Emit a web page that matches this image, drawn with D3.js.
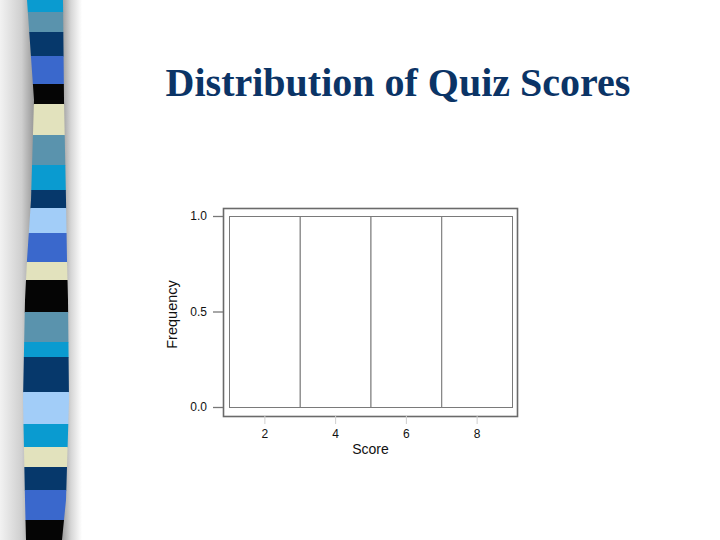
<!DOCTYPE html>
<html>
<head>
<meta charset="utf-8">
<script src="https://cdn.jsdelivr.net/npm/d3@7"></script>
<style>
  html, body { margin: 0; padding: 0; background: #ffffff; }
  svg { display: block; }
</style>
</head>
<body>
<svg id="chart" width="720" height="540"></svg>
<script>
// ---- Data ----
const binEdges = [1, 3, 5, 7, 9];
const binCounts = [1, 1, 1, 1];
const xTickValues = [2, 4, 6, 8];
const yTickValues = [0, 0.5, 1.0];
const yTickLabels = ["0.0", "0.5", "1.0"];
const titleText = "Distribution of Quiz Scores";
const xLabel = "Score";
const yLabel = "Frequency";

// decorative stripe colours (top to bottom) with their band boundaries
const stripeColors = ["#0a9bd0", "#5a93ad", "#06386b", "#3a68cc", "#050505", "#e2e2bd",
  "#5a93ad", "#0a9bd0", "#06386b", "#a2cdf8", "#3a68cc", "#e2e2bd", "#050505", "#5a93ad",
  "#0a9bd0", "#06386b", "#a2cdf8", "#0a9bd0", "#e2e2bd", "#06386b", "#3a68cc", "#050505"];
const stripeBounds = [0, 12, 32, 56, 84, 104, 135, 165, 190, 208, 233, 262, 280, 312, 342,
  357, 392, 424, 447, 467, 490, 520, 540];

const svg = d3.select("#chart");
const defs = svg.append("defs");

// ---- Decorative left strip ----
const lg = defs.append("linearGradient").attr("id", "shL").attr("x1", "0").attr("x2", "1").attr("y1", "0").attr("y2", "0");
lg.append("stop").attr("offset", "0").attr("stop-color", "#f2f2f2");
lg.append("stop").attr("offset", "0.6").attr("stop-color", "#cfcfcf");
lg.append("stop").attr("offset", "1").attr("stop-color", "#8f8f8f");
const rg = defs.append("linearGradient").attr("id", "shR").attr("x1", "0").attr("x2", "1").attr("y1", "0").attr("y2", "0");
rg.append("stop").attr("offset", "0").attr("stop-color", "#8f8f8f");
rg.append("stop").attr("offset", "0.5").attr("stop-color", "#d6d6d6");
rg.append("stop").attr("offset", "1").attr("stop-color", "#ffffff");

svg.append("rect").attr("x", 0).attr("y", 0).attr("width", 36).attr("height", 540).attr("fill", "url(#shL)");
svg.append("rect").attr("x", 60).attr("y", 0).attr("width", 22).attr("height", 540).attr("fill", "url(#shR)");

const leftEdge = [[27, 0], [34, 100], [31, 200], [27, 260], [25, 300], [23, 400], [25, 500], [26, 540]];
const rightEdge = [[62, 540], [66, 500], [69, 400], [68, 300], [67, 260], [66, 200], [64, 100], [63, 0]];
const stripPath = d3.line().curve(d3.curveLinear)(leftEdge.concat(rightEdge)) + "Z";
defs.append("clipPath").attr("id", "stripClip").append("path").attr("d", stripPath);

const stripG = svg.append("g").attr("clip-path", "url(#stripClip)");
stripG.selectAll("rect").data(stripeColors).join("rect")
  .attr("x", 0).attr("width", 90)
  .attr("y", (d, i) => stripeBounds[i])
  .attr("height", (d, i) => stripeBounds[i + 1] - stripeBounds[i] + 0.5)
  .attr("fill", d => d);

// ---- Title ----
svg.append("text")
  .attr("x", 398).attr("y", 96)
  .attr("text-anchor", "middle")
  .attr("font-family", "'Liberation Serif', 'Times New Roman', serif")
  .attr("font-weight", "bold")
  .attr("font-size", 40)
  .attr("fill", "#0b3466")
  .text(titleText);

// ---- Histogram ----
const x = d3.scaleLinear().domain([1, 9]).range([229, 512]);
const y = d3.scaleLinear().domain([0, 1]).range([407, 216]);
const frame = { x0: 223, x1: 517, y0: 208, y1: 416 };

const bins = binCounts.map((c, i) => ({ x0: binEdges[i], x1: binEdges[i + 1], count: c }));

svg.append("g").selectAll("rect").data(bins).join("rect")
  .attr("x", d => x(d.x0) + 0.5)
  .attr("y", d => y(d.count) + 0.5)
  .attr("width", d => x(d.x1) - x(d.x0))
  .attr("height", d => y(0) - y(d.count))
  .attr("fill", "#ffffff")
  .attr("stroke", "#7a7a7a")
  .attr("stroke-width", 1);

// frame
svg.append("rect")
  .attr("x", frame.x0 + 0.5).attr("y", frame.y0 + 0.5)
  .attr("width", frame.x1 - frame.x0).attr("height", frame.y1 - frame.y0)
  .attr("fill", "none").attr("stroke", "#6a6a6a").attr("stroke-width", 1.6);

// y axis
const yAxis = d3.axisLeft(y).tickValues(yTickValues)
  .tickFormat((d, i) => yTickLabels[i]).tickSize(10).tickPadding(6);
const yg = svg.append("g").attr("transform", `translate(${frame.x0},0)`).call(yAxis);
yg.select(".domain").remove();
yg.selectAll(".tick line").attr("stroke", "#777").attr("stroke-width", 1.3);
yg.selectAll(".tick text").attr("font-family", "'Liberation Sans', Arial, sans-serif")
  .attr("font-size", 12).attr("fill", "#111");

// x axis
const xAxis = d3.axisBottom(x).tickValues(xTickValues).tickSize(8).tickPadding(5);
const xg = svg.append("g").attr("transform", `translate(0,${frame.y1})`).call(xAxis);
xg.select(".domain").remove();
xg.selectAll(".tick line").attr("stroke", "#cfcfcf");
xg.selectAll(".tick text").attr("font-family", "'Liberation Sans', Arial, sans-serif")
  .attr("font-size", 12).attr("fill", "#111");

// axis labels
svg.append("text")
  .attr("x", 370.5).attr("y", 454)
  .attr("text-anchor", "middle")
  .attr("font-family", "'Liberation Sans', Arial, sans-serif")
  .attr("font-size", 14).attr("fill", "#111")
  .text(xLabel);
svg.append("text")
  .attr("transform", "translate(176.5,314.5) rotate(-90)")
  .attr("text-anchor", "middle")
  .attr("font-family", "'Liberation Sans', Arial, sans-serif")
  .attr("font-size", 14.5).attr("fill", "#111")
  .text(yLabel);
</script>
</body>
</html>
